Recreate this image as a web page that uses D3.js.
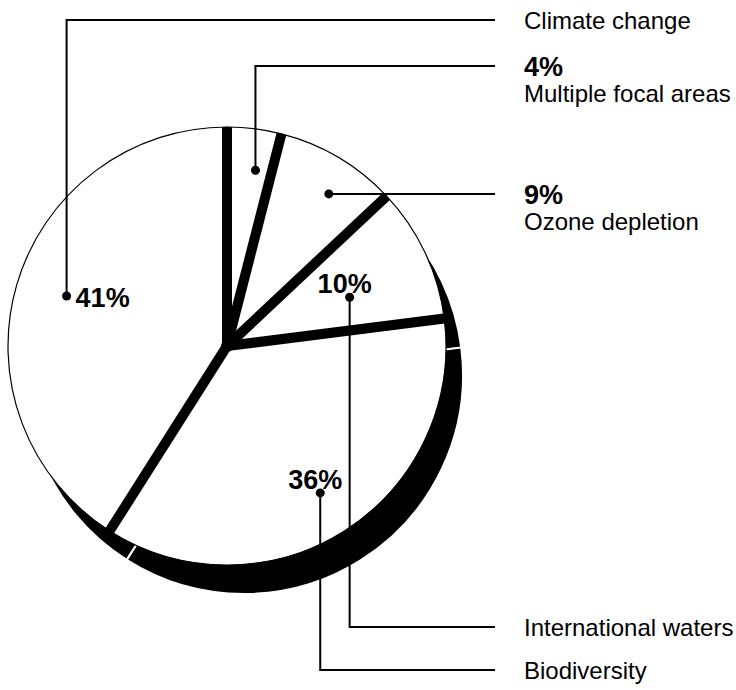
<!DOCTYPE html>
<html>
<head>
<meta charset="utf-8">
<script src="https://cdn.jsdelivr.net/npm/d3@7"></script>
<style>
  html, body { margin: 0; padding: 0; background: #fff; }
  svg { display: block; }
</style>
</head>
<body>
<svg id="chart" width="736" height="690"></svg>
<script>
// GEF allocation by focal area, clockwise from 12 o'clock
const categories = ["Multiple focal areas", "Ozone depletion", "International waters", "Biodiversity", "Climate change"];
const shares = [4, 9, 10, 36, 41];
const shareLabels = ["4%", "9%", "10%", "36%", "41%"];

// ---- layout ----
const W = 736, H = 690;
const cx = 227, cy = 346, R = 219;
const depth = { x: 17, y: 29 };          // extrusion offset of the disc
const textX = 524, leaderEndX = 495;

// callout per slice: dot radius, angular nudge (deg), leader row y, where the % sits
const callouts = [
  { r: 178, nudge: 2.0, rowY: 66,   route: "up",   pct: "right" },
  { r: 183, nudge: 3.2, rowY: null, route: "flat", pct: "right" },
  { r: 132, nudge: 3.5, rowY: 627,  route: "down", pct: "above" },
  { r: 174, nudge: 0.0, rowY: 670,  route: "down", pct: "above" },
  { r: 168, nudge: 1.1, rowY: 20,   route: "up",   pct: "beside" }
];

const svg = d3.select("#chart");

const pie = d3.pie().sort(null).value(d => d)
  .startAngle(0).endAngle(2 * Math.PI);
const arcs = pie(shares);
const sector = d3.arc().innerRadius(0).outerRadius(R);

// extruded underside of each slice
svg.append("g")
  .attr("transform", `translate(${cx + depth.x},${cy + depth.y})`)
  .selectAll("path").data(arcs).join("path")
  .attr("d", sector)
  .attr("fill", "#000")
  .attr("stroke", "#fff")
  .attr("stroke-width", 2);

// top faces
svg.append("g")
  .attr("transform", `translate(${cx},${cy})`)
  .selectAll("path").data(arcs).join("path")
  .attr("d", sector)
  .attr("fill", "#fff")
  .attr("stroke", "#000")
  .attr("stroke-width", 1.2);

// heavy separators along slice edges
const edgeAngles = arcs.map(d => d.startAngle);
svg.append("g")
  .attr("transform", `translate(${cx},${cy})`)
  .selectAll("line").data(edgeAngles).join("line")
  .attr("x1", 0).attr("y1", 0)
  .attr("x2", a => R * Math.sin(a))
  .attr("y2", a => -R * Math.cos(a))
  .attr("stroke", "#000")
  .attr("stroke-width", 10)
  .attr("stroke-linecap", "butt");
svg.append("circle").attr("cx", cx).attr("cy", cy).attr("r", 6).attr("fill", "#000");

// callouts
const regularFont = "'Liberation Sans', Arial, sans-serif";
const g = svg.append("g");
arcs.forEach((d, i) => {
  const c = callouts[i];
  const a = (d.startAngle + d.endAngle) / 2 + c.nudge * Math.PI / 180;
  const px = cx + c.r * Math.sin(a);
  const py = cy - c.r * Math.cos(a);
  const rowY = c.rowY === null ? py : c.rowY;

  const pts = c.route === "flat"
    ? [[px, py], [leaderEndX, py]]
    : [[px, py], [px, rowY], [leaderEndX, rowY]];
  g.append("path")
    .attr("d", d3.line()(pts))
    .attr("fill", "none")
    .attr("stroke", "#000")
    .attr("stroke-width", 2);
  g.append("circle").attr("cx", px).attr("cy", py).attr("r", 4.5).attr("fill", "#000");

  if (c.pct === "right") {
    g.append("text")
      .attr("x", textX).attr("y", rowY + 10)
      .attr("font-family", regularFont).attr("font-weight", "bold").attr("font-size", 27)
      .text(shareLabels[i]);
    g.append("text")
      .attr("x", textX).attr("y", rowY + 36)
      .attr("font-family", regularFont).attr("font-size", 24)
      .text(categories[i]);
  } else {
    g.append("text")
      .attr("x", textX).attr("y", rowY + 9)
      .attr("font-family", regularFont).attr("font-size", 24)
      .text(categories[i]);
    const onRight = c.pct === "beside";
    g.append("text")
      .attr("x", onRight ? px + 9 : px - 5)
      .attr("y", onRight ? py + 11 : py - 4)
      .attr("text-anchor", onRight ? "start" : "middle")
      .attr("font-family", regularFont).attr("font-weight", "bold").attr("font-size", 27)
      .text(shareLabels[i]);
  }
});
</script>
</body>
</html>
